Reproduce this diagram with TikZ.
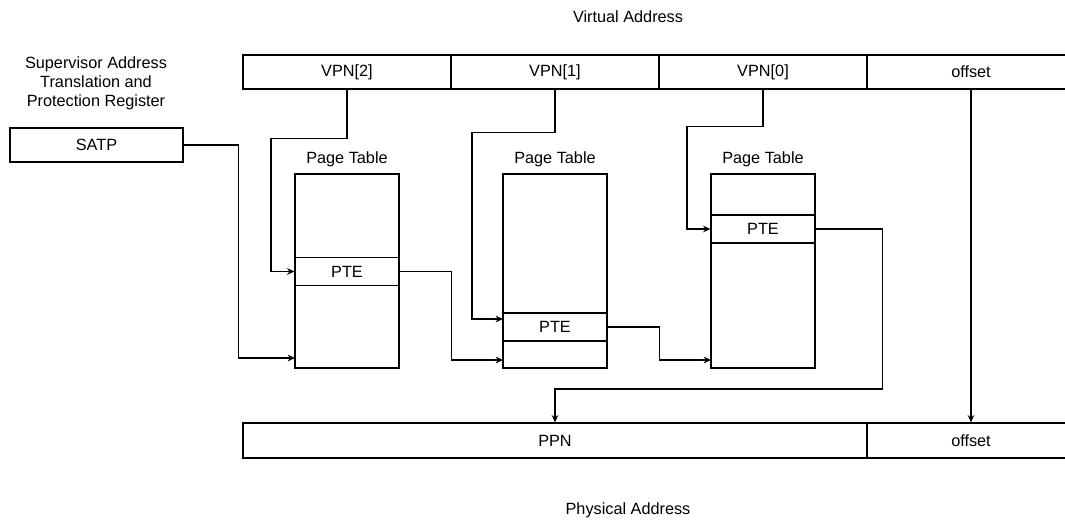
\documentclass[tikz,border=0pt]{standalone}
\usepackage{fontspec}
\setmainfont{Liberation Sans}
\usetikzlibrary{arrows.meta}

\tikzset{
  lbl/.style={inner sep=0pt, font=\fontsize{12.2}{14.4}\selectfont},
  cell/.style={lbl, draw, line width=0.9pt, minimum width=156pt, minimum height=25.5pt},
  ptable/.style={draw, line width=0.9pt, minimum width=78pt, minimum height=145.5pt, inner sep=0pt},
  ptrow/.style={lbl, draw, line width=0.9pt, minimum width=78pt, minimum height=21pt},
  arr/.style={line width=0.9pt, -{Stealth[length=5.5pt,width=5pt]}}
}

\begin{document}
\begin{tikzpicture}[x=0.75pt,y=0.75pt,yscale=-1,xscale=1]
\useasboundingbox (0,0) rectangle (1065,519);

% Virtual address
\node [lbl] (vatitle) at (628,17) {Virtual Address};
\node [cell] (vpn2) at (347,72) {VPN[2]};
\node [cell] (vpn1) at (555,72) {VPN[1]};
\node [cell] (vpn0) at (763,72) {VPN[0]};
\node [cell] (voff) at (971,72) {offset};

% SATP
\node [lbl, align=center] (satptitle) at (96,83) {Supervisor Address\\Translation and\\Protection Register};
\node [cell, minimum width=129.75pt] (satp) at (96.5,145) {SATP};

% Page tables
\node [lbl] (pt1title) at (347,159) {Page Table};
\node [ptable] (pt1) at (347,271) {};
\node [ptrow] (pte1) at (347,271.5) {PTE};

\node [lbl] (pt2title) at (555,159) {Page Table};
\node [ptable] (pt2) at (555,271) {};
\node [ptrow] (pte2) at (555,327) {PTE};

\node [lbl] (pt3title) at (763,159) {Page Table};
\node [ptable] (pt3) at (763,271) {};
\node [ptrow] (pte3) at (763,229) {PTE};

% Physical address
\node [cell, minimum width=468pt, minimum height=26.25pt] (ppn) at (555,440.5) {PPN};
\node [cell, minimum height=26.25pt] (poff) at (971,440.5) {offset};
\node [lbl] (patitle) at (628,510) {Physical Address};

% entry points on the tables
\coordinate (t1in) at (295,358);
\coordinate (t2in) at (503,360);
\coordinate (t2pte) at (503,319);
\coordinate (t3in) at (711,360);

% Connectors
\draw [arr] (satp.east) -- ++(55,0) |- (t1in);
\draw [arr] (vpn2.south) |- ++(-76,49) |- (pte1.west);
\draw [arr] (pte1.east) -- ++(52,0) |- (t2in);
\draw [arr] (vpn1.south) |- ++(-83,43) |- (t2pte);
\draw [arr] (pte2.east) -- ++(52,0) |- (t3in);
\draw [arr] (vpn0.south) |- ++(-76,37) |- (pte3.west);
\draw [arr] (pte3.east) -- ++(67,0) -- ++(0,160) -| (ppn.north);
\draw [arr] (voff.south) -- (poff.north);

\end{tikzpicture}
\end{document}
